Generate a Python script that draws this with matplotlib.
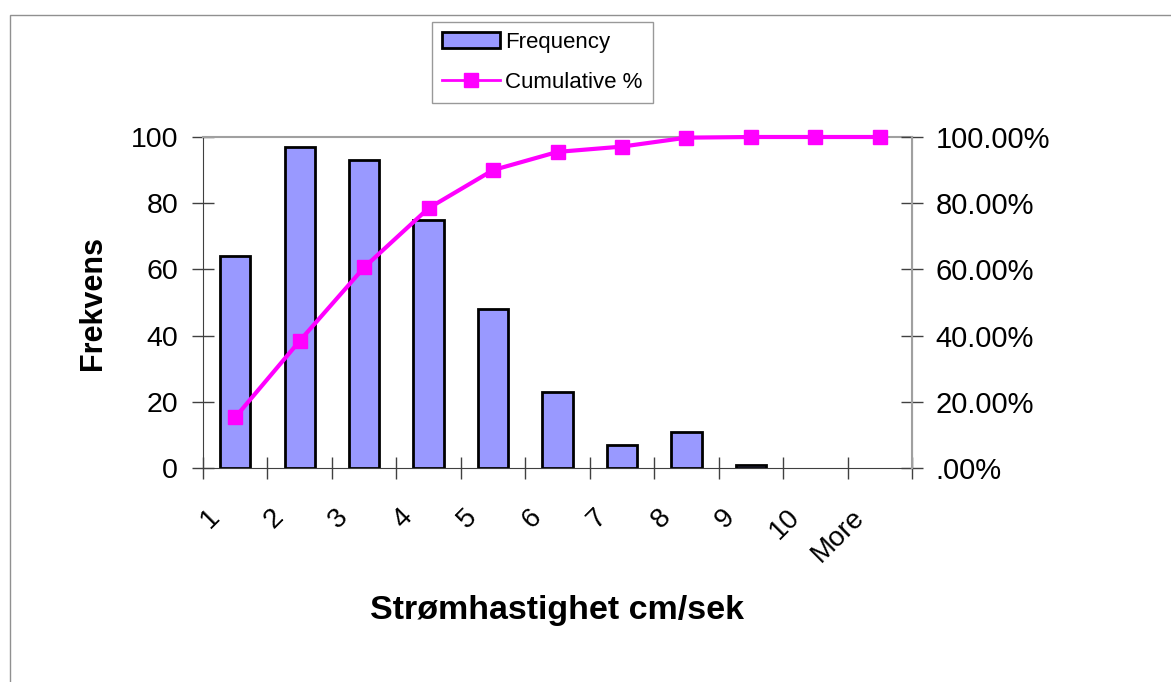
import numpy as np
import matplotlib
matplotlib.use('Agg')
import matplotlib.pyplot as plt
from matplotlib.patches import Rectangle
from matplotlib.lines import Line2D
from matplotlib.ticker import FuncFormatter

plt.rcParams['font.family'] = ['Liberation Sans', 'DejaVu Sans']

# histogram data
bins = ['1', '2', '3', '4', '5', '6', '7', '8', '9', '10', 'More']
frequency = [64, 97, 93, 75, 48, 23, 7, 11, 1, 0, 0]
cumulative = [15.3, 38.4, 60.6, 78.5, 90.0, 95.5, 97.1, 99.8, 100, 100, 100]

bar_color = '#9999FF'
line_color = '#FF00FF'


def pct_fmt(v, pos):
    s = '%.2f%%' % (v * 100)
    if s.startswith('0'):
        s = s[1:]   # excel style ".00%"
    return s


fig = plt.figure(figsize=(11.71, 6.82), dpi=100)
ax = fig.add_axes([203 / 1171, 1 - 468 / 682, 709 / 1171, 331 / 682])

x = np.arange(len(bins))
bars = ax.bar(x, frequency, width=0.47, color=bar_color, edgecolor='black', linewidth=2, zorder=2)
for b, f in zip(bars, frequency):
    if f == 0:
        b.set_visible(False)
ax.set_xlim(-0.5, len(bins) - 0.5)
ax.set_ylim(0, 100)
ax.set_yticks([0, 20, 40, 60, 80, 100])

# ticks at category boundaries, labels (excel-like, shifted left) via minor ticks
ax.set_xticks(np.arange(len(bins) + 1) - 0.5)
ax.set_xticklabels([])
ax.set_xticks(x - 0.45, minor=True)
ax.set_xticklabels(bins, minor=True, rotation=45, ha='right', va='top',
                   rotation_mode='anchor', fontsize=20)
ax.tick_params(axis='x', which='major', direction='inout', length=16, width=1, color='#404040')
ax.tick_params(axis='x', which='minor', length=0, pad=26)
ax.tick_params(axis='y', direction='inout', length=16, width=1, color='#404040',
               labelsize=20.5, pad=10)

for s in ['left', 'bottom']:
    ax.spines[s].set_color('#404040')
for s in ['top', 'right']:
    ax.spines[s].set_color('#a0a0a0')
ax.spines['top'].set_linewidth(1.5)

ax.set_ylabel('Frekvens', fontsize=22, fontweight='bold', labelpad=16)
ax.set_xlabel('Strømhastighet cm/sek', fontsize=24.5, fontweight='bold', labelpad=20)

ax2 = ax.twinx()
ax2.plot(x, np.array(cumulative) / 100, color=line_color, linewidth=3, marker='s',
         markersize=10, zorder=3, clip_on=False)
ax2.set_ylim(0, 1)
ax2.set_yticks([0, 0.2, 0.4, 0.6, 0.8, 1.0])
ax2.yaxis.set_major_formatter(FuncFormatter(pct_fmt))
ax2.tick_params(axis='y', direction='inout', length=16, width=1, color='#404040',
                labelsize=21, pad=9)
for s in ax2.spines.values():
    s.set_visible(False)
ax2.spines['right'].set_visible(True)
ax2.spines['right'].set_color('#a0a0a0')
ax2.spines['right'].set_linewidth(1.5)

handles = [Rectangle((0, 0), 1, 1, facecolor=bar_color, edgecolor='black', linewidth=2),
           Line2D([], [], color=line_color, linewidth=2, marker='s', markersize=10)]
leg = fig.legend(handles, ['Frequency', 'Cumulative %'], loc='upper left',
                 bbox_to_anchor=(432 / 1171, 1 - 22 / 682), fontsize=16, frameon=True,
                 fancybox=False, edgecolor='#808080', borderaxespad=0, handlelength=2.6,
                 labelspacing=0.85, borderpad=0.45, handletextpad=0.25)
leg.get_frame().set_linewidth(1)

# outer chart border
fig.add_artist(Rectangle((10 / 1171, -0.1), 1.2, 1 - 15 / 682 + 0.1, transform=fig.transFigure,
                         fill=False, edgecolor='#909090', linewidth=1))

fig.savefig('out.png', dpi=100)
